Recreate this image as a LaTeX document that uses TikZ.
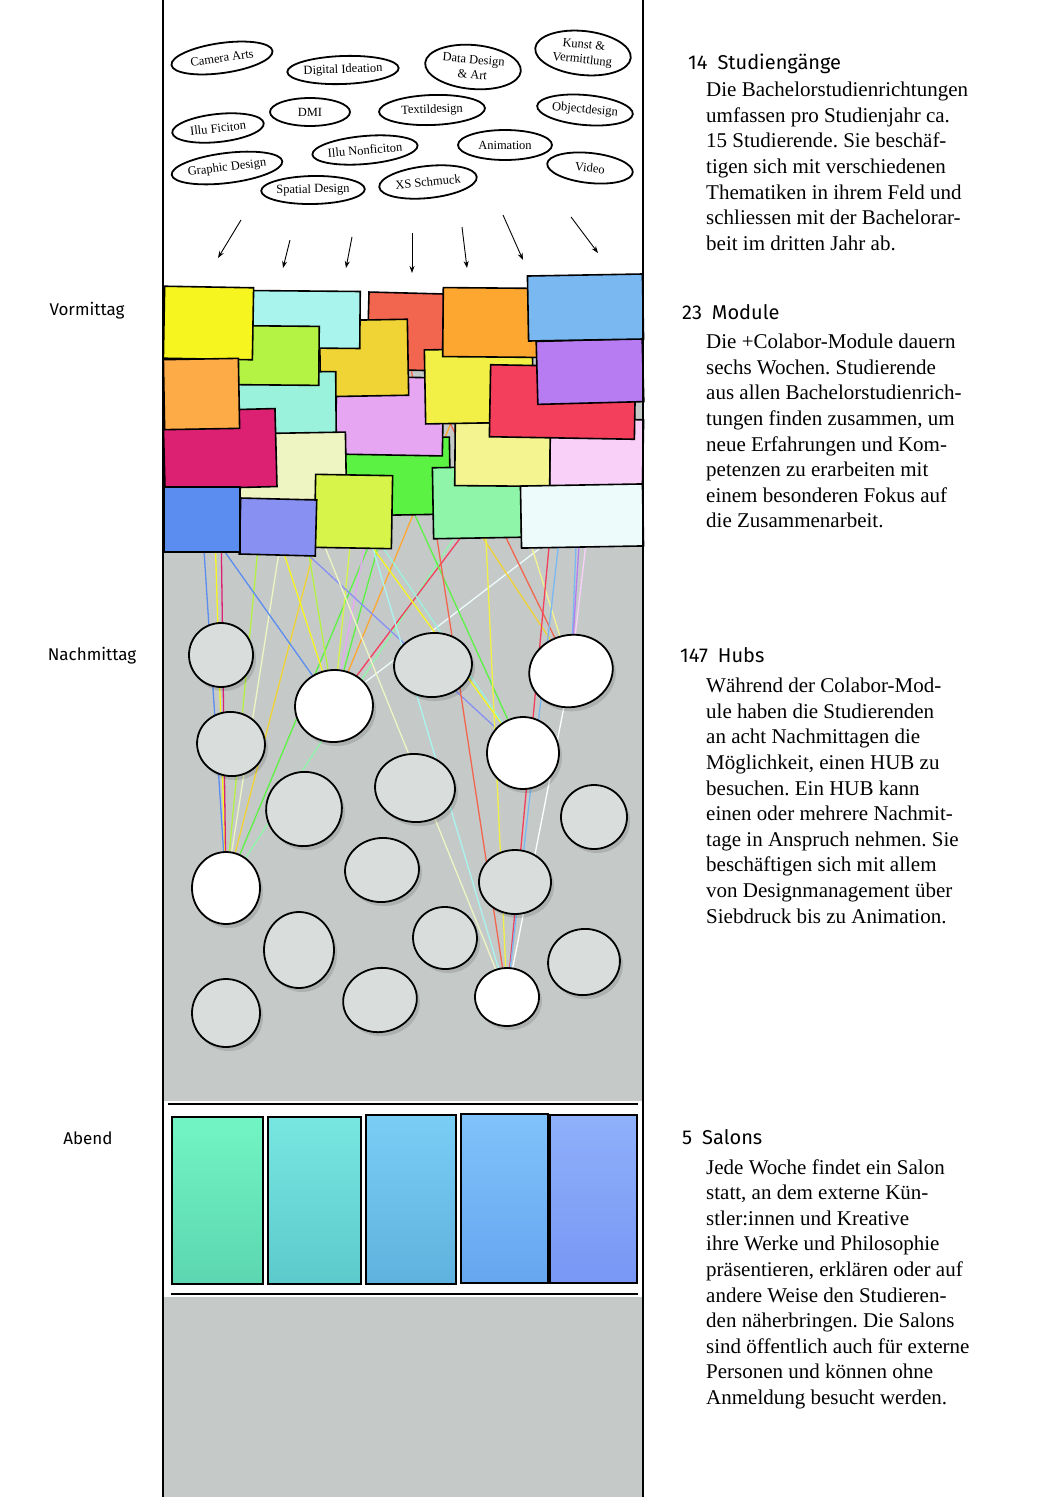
\documentclass[tikz,border=0pt]{standalone}
\usepackage{fontspec}
\setmainfont{Liberation Serif}
\newfontfamily\hand{Fira Sans}
\usetikzlibrary{shapes.geometric,arrows.meta,shadows}
\pgfdeclarelayer{back}
\pgfdeclarelayer{threads}
\pgfsetlayers{back,threads,main}
\frenchspacing

% module colours
\definecolor{colA}{HTML}{F7F520}
\definecolor{colB}{HTML}{A9F5EE}
\definecolor{colC}{HTML}{B4F244}
\definecolor{colD}{HTML}{F2654F}
\definecolor{colE}{HTML}{F0D334}
\definecolor{colF}{HTML}{FEA730}
\definecolor{colG}{HTML}{7AB8F2}
\definecolor{colH}{HTML}{B77BF2}
\definecolor{colI}{HTML}{F2F046}
\definecolor{colJ}{HTML}{F33E5C}
\definecolor{colK}{HTML}{FDAB46}
\definecolor{colL}{HTML}{9AF2DC}
\definecolor{colM}{HTML}{E6A6F2}
\definecolor{colN}{HTML}{DC2172}
\definecolor{colO}{HTML}{EFF5C2}
\definecolor{colP}{HTML}{5CF244}
\definecolor{colQ}{HTML}{F4F490}
\definecolor{colR}{HTML}{F8D0F8}
\definecolor{colS}{HTML}{5B8CF0}
\definecolor{colT}{HTML}{8891F2}
\definecolor{colU}{HTML}{D6F44A}
\definecolor{colV}{HTML}{8FF5A8}
\definecolor{colW}{HTML}{EEFBFB}
\definecolor{floor}{HTML}{C5CAC9}
\definecolor{hubgray}{HTML}{D9DDDC}
% salon colours
\definecolor{salAtop}{HTML}{72F5C4}\definecolor{salAbot}{HTML}{5CD6B0}
\definecolor{salBtop}{HTML}{78E6E0}\definecolor{salBbot}{HTML}{5CCACC}
\definecolor{salCtop}{HTML}{7ACDF5}\definecolor{salCbot}{HTML}{60B2DE}
\definecolor{salDtop}{HTML}{80C2FA}\definecolor{salDbot}{HTML}{66A6F0}
\definecolor{salEtop}{HTML}{8FB0FA}\definecolor{salEbot}{HTML}{7896F4}

\tikzset{
  course/.style={ellipse, draw, line width=1.8pt, inner sep=0pt, align=center,
    font=\fontsize{12.5}{15}\selectfont},
  postit/.style={rectangle, draw, line width=1.6pt, inner sep=0pt},
  hub/.style={ellipse, draw, line width=1.8pt, fill=hubgray, inner sep=0pt,
    drop shadow={shadow xshift=3pt, shadow yshift=-4pt, fill=black, opacity=0.12}},
  hubon/.style={hub, fill=white},
  salon/.style={rectangle, draw, line width=1.6pt, inner sep=0pt},
  thread/.style={line width=1.3pt},
  fall/.style={line width=0.9pt, -{Stealth[length=7pt,width=5pt]}},
  daytime/.style={font=\hand\fontsize{17}{20}\selectfont},
  head/.style={font=\hand\fontsize{20}{24}\selectfont, anchor=base west, inner sep=0pt},
  body/.style={font=\fontsize{21}{25.6}\selectfont, anchor=north west, align=left, inner sep=0pt},
}

\begin{document}
\begin{tikzpicture}[x=1pt, y=-1pt]
  \useasboundingbox (0,0) rectangle (1058,1497);

  % column background
  \begin{pgfonlayer}{back}
    \fill[white] (0,0) rectangle (1058,1497);
    \fill[floor] (163,340) rectangle (643,1497);
    \fill[white] (163,1101) rectangle (643,1297);
  \end{pgfonlayer}

  % study programmes
  \node[course, minimum width=102, minimum height=30, rotate=8] (camera) at (222,58) {Camera Arts};
  \node[course, minimum width=100, minimum height=28, rotate=2] (digital) at (343,70) {Digital Ideation};
  \node[course, minimum width=96, minimum height=44, rotate=-5] (datadesign) at (473,67) {Data Design\\\& Art};
  \node[course, minimum width=96, minimum height=44, rotate=-6] (kunst) at (583,53) {Kunst \&\\Vermittlung};
  \node[course, minimum width=80, minimum height=28] (dmi) at (310,112) {DMI};
  \node[course, minimum width=106, minimum height=30, rotate=2] (textil) at (432,110) {Textildesign};
  \node[course, minimum width=96, minimum height=30, rotate=-5] (object) at (585,110) {Objectdesign};
  \node[course, minimum width=92, minimum height=28, rotate=6] (illufic) at (218,128) {Illu Ficiton};
  \node[course, minimum width=94, minimum height=30] (animation) at (505,145) {Animation};
  \node[course, minimum width=104, minimum height=28, rotate=5] (illunon) at (365,150) {Illu Nonficiton};
  \node[course, minimum width=104, minimum height=30, rotate=7] (graphic) at (227,168) {Graphic Design};
  \node[course, minimum width=86, minimum height=30, rotate=-6] (video) at (590,168) {Video};
  \node[course, minimum width=98, minimum height=32, rotate=6] (schmuck) at (428,182) {XS Schmuck};
  \node[course, minimum width=100, minimum height=28, rotate=1] (spatial) at (313,190) {Spatial Design};

  \foreach \x/\y/\u/\v in {241/220/218/258, 290/240/283/268, 352/237/346/268, 412/233/412/273,
                           462/227/467/268, 503/215/523/260, 571/217/598/253}
    \draw[fall] (\x,\y) -- (\u,\v);

  % modules (drawn bottom to top)
  \node[postit, fill=colP, minimum width=105, minimum height=77, rotate=1] (mP) at (397.5,476.5) {};
  \node[postit, fill=colM, minimum width=107, minimum height=78, rotate=-1] (mM) at (389.5,416) {};
  \node[postit, fill=colD, minimum width=75, minimum height=77, rotate=-1.5] (mD) at (405.5,331.5) {};
  \node[postit, fill=colE, minimum width=88, minimum height=76, rotate=1] (mE) at (364,358) {};
  \node[postit, fill=colB, minimum width=111, minimum height=57, rotate=-0.5] (mB) at (304.5,319.5) {};
  \node[postit, fill=colL, minimum width=99, minimum height=68, rotate=0.5] (mL) at (286.5,406) {};
  \node[postit, fill=colC, minimum width=86, minimum height=59, rotate=-0.5] (mC) at (276,355.5) {};
  \node[postit, fill=colA, minimum width=89, minimum height=72, rotate=-1] (mA) at (208.5,323) {};
  \node[postit, fill=colO, minimum width=107, minimum height=67, rotate=1] (mO) at (292.5,466.5) {};
  \node[postit, fill=colN, minimum width=112, minimum height=78, rotate=1.5] (mN) at (220,449) {};
  \node[postit, fill=colK, minimum width=75, minimum height=70, rotate=1] (mK) at (201.5,394) {};
  \node[postit, fill=colU, minimum width=77, minimum height=73, rotate=-1] (mU) at (353.5,511.5) {};
  \node[postit, fill=colT, minimum width=76, minimum height=56, rotate=-1.5] (mT) at (278,527) {};
  \node[postit, fill=colS, minimum width=76, minimum height=65] (mS) at (202,519.5) {};
  \node[postit, fill=colR, minimum width=93, minimum height=70, rotate=-1] (mR) at (596.5,454) {};
  \node[postit, fill=colV, minimum width=88, minimum height=71, rotate=1] (mV) at (477,502.5) {};
  \node[postit, fill=colQ, minimum width=95, minimum height=63, rotate=-0.5] (mQ) at (502.5,454.5) {};
  \node[postit, fill=colW, minimum width=122, minimum height=62, rotate=1] (mW) at (582,516) {};
  \node[postit, fill=colI, minimum width=108, minimum height=74, rotate=1] (mI) at (479,386) {};
  \node[postit, fill=colF, minimum width=99, minimum height=69, rotate=-0.5] (mF) at (492.5,322.5) {};
  \node[postit, fill=colJ, minimum width=145, minimum height=72, rotate=-1] (mJ) at (562.5,402) {};
  \node[postit, fill=colH, minimum width=106, minimum height=63, rotate=1.5] (mH) at (590,371.5) {};
  \node[postit, fill=colG, minimum width=115, minimum height=65, rotate=1] (mG) at (585.5,307.5) {};

  % hubs
  \node[hub, minimum width=64, minimum height=64] (g1) at (221,655) {};
  \node[hubon, minimum width=78, minimum height=72, rotate=5] (w1) at (334,706) {};
  \node[hub, minimum width=78, minimum height=64, rotate=5] (g2) at (433,665) {};
  \node[hubon, minimum width=84, minimum height=72, rotate=12] (w2) at (571,671) {};
  \node[hub, minimum width=68, minimum height=64, rotate=-10] (g3) at (231,744) {};
  \node[hubon, minimum width=72, minimum height=72] (w3) at (523,753) {};
  \node[hub, minimum width=76, minimum height=74, rotate=20] (g4) at (304,809) {};
  \node[hub, minimum width=80, minimum height=68, rotate=-5] (g5) at (415,788) {};
  \node[hub, minimum width=66, minimum height=64] (g6) at (594,817) {};
  \node[hubon, minimum width=68, minimum height=72] (w4) at (226,888) {};
  \node[hub, minimum width=74, minimum height=64, rotate=5] (g7) at (382,870) {};
  \node[hub, minimum width=72, minimum height=64] (g8) at (515,882) {};
  \node[hub, minimum width=70, minimum height=76] (g9) at (299,950) {};
  \node[hub, minimum width=64, minimum height=62, rotate=-10] (g10) at (445,938) {};
  \node[hub, minimum width=72, minimum height=66, rotate=10] (g11) at (584,962) {};
  \node[hub, minimum width=68, minimum height=68] (g12) at (226,1013) {};
  \node[hub, minimum width=74, minimum height=64, rotate=10] (g13) at (380,1000) {};
  \node[hubon, minimum width=64, minimum height=58] (w5) at (507,997) {};

  % threads from modules to hubs
  \begin{pgfonlayer}{threads}
    \foreach \s/\t in {S/w4, A/w4, N/w4, C/w4, O/w4, E/w4, P/w4, V/w4,
                       S/w1, A/w1, C/w1, U/w1, M/w1, F/w1, J/w1, W/w1, P/w1,
                       T/w3, A/w3, L/w3, P/w3,
                       E/w2, D/w2, Q/w2, G/w2, R/w2, H/w2,
                       D/w5, B/w5, I/w5, J/w5, G/w5, O/w5}
      \draw[thread, draw=col\s] (m\s) -- (\t);
    \draw[thread, white] (w2) -- (w5);
  \end{pgfonlayer}

  % salons
  \draw[line width=1.6pt] (168,1104) -- (638,1104);
  \draw[line width=1.6pt] (171,1294) -- (638,1294);
  \node[salon, top color=salAtop, bottom color=salAbot, minimum width=91, minimum height=167] (s1) at (217.5,1200.5) {};
  \node[salon, top color=salBtop, bottom color=salBbot, minimum width=93, minimum height=167] (s2) at (314.5,1200.5) {};
  \node[salon, top color=salCtop, bottom color=salCbot, minimum width=90, minimum height=169] (s3) at (411,1199.5) {};
  \node[salon, top color=salDtop, bottom color=salDbot, minimum width=87, minimum height=169] (s4) at (504.5,1198.5) {};
  \node[salon, top color=salEtop, bottom color=salEbot, minimum width=87, minimum height=168] (s5) at (593.5,1199) {};

  % column borders
  \draw[line width=1.8pt] (163,0) -- (163,1497);
  \draw[line width=1.8pt] (643,0) -- (643,1497);

  % times of day
  \node[daytime] (vormittag) at (87,311) {Vormittag};
  \node[daytime] (nachmittag) at (92,656) {Nachmittag};
  \node[daytime] (abend) at (88,1138) {Abend};

  % descriptions
  \node[head] (h1) at (688,69) {14\enspace Studiengänge};
  \node[body] (t1) at (706,82) {Die Bachelorstudienrichtungen\\
    umfassen pro Studienjahr ca.\\
    15 Studierende. Sie beschäf-\\
    tigen sich mit verschiedenen\\
    Thematiken in ihrem Feld und\\
    schliessen mit der Bachelorar-\\
    beit im dritten Jahr ab.};
  \node[head] (h2) at (682,319) {23\enspace Module};
  \node[body] (t2) at (706,334) {Die +Colabor-Module dauern\\
    sechs Wochen. Studierende\\
    aus allen Bachelorstudienrich-\\
    tungen finden zusammen, um\\
    neue Erfahrungen und Kom-\\
    petenzen zu erarbeiten mit\\
    einem besonderen Fokus auf\\
    die Zusammenarbeit.};
  \node[head] (h3) at (680,662) {147\enspace Hubs};
  \node[body] (t3) at (706,678) {Während der Colabor-Mod-\\
    ule haben die Studierenden\\
    an acht Nachmittagen die\\
    Möglichkeit, einen HUB zu\\
    besuchen. Ein HUB kann\\
    einen oder mehrere Nachmit-\\
    tage in Anspruch nehmen. Sie\\
    beschäftigen sich mit allem\\
    von Designmanagement über\\
    Siebdruck bis zu Animation.};
  \node[head] (h4) at (682,1144) {5\enspace Salons};
  \node[body] (t4) at (706,1159) {Jede Woche findet ein Salon\\
    statt, an dem externe Kün-\\
    stler:innen und Kreative\\
    ihre Werke und Philosophie\\
    präsentieren, erklären oder auf\\
    andere Weise den Studieren-\\
    den näherbringen. Die Salons\\
    sind öffentlich auch für externe\\
    Personen und können ohne\\
    Anmeldung besucht werden.};
\end{tikzpicture}
\end{document}
